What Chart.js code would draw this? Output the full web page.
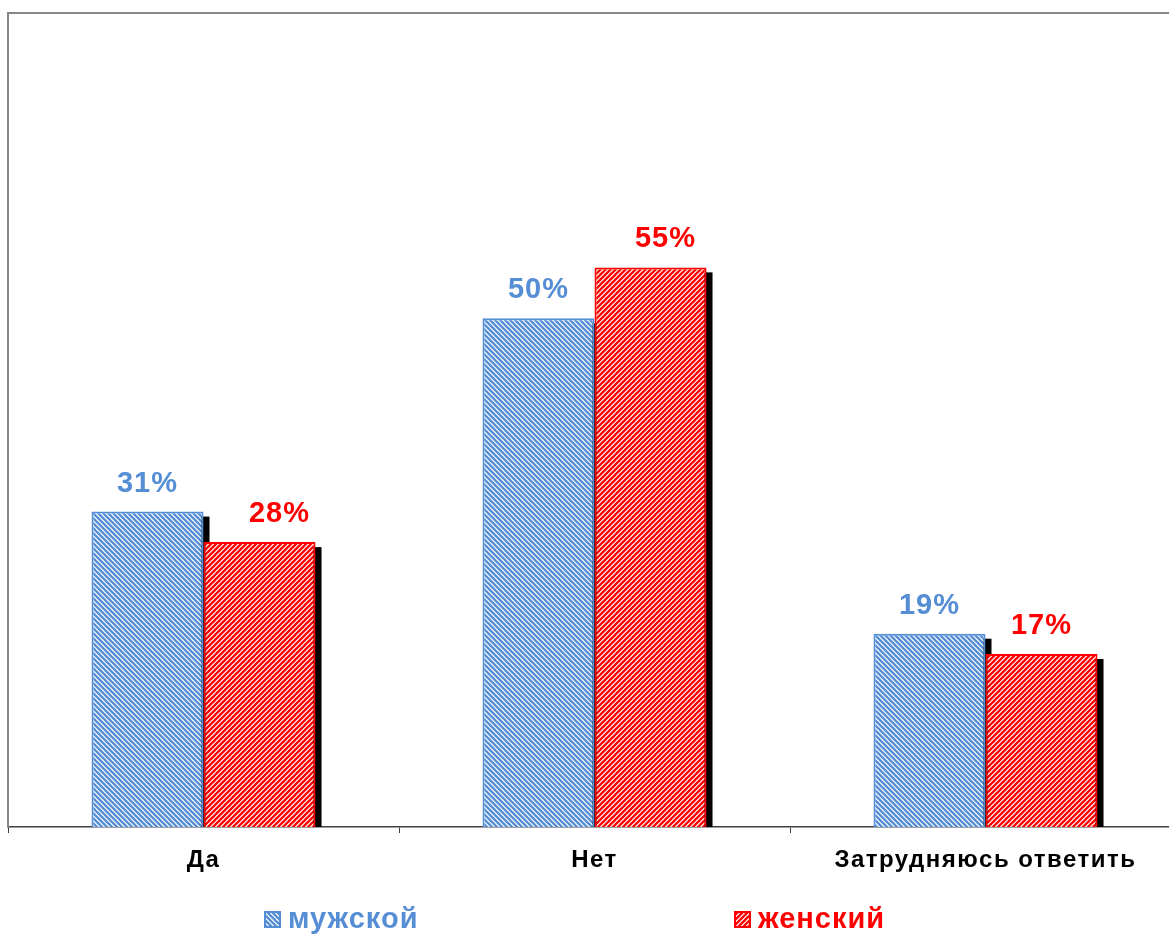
<!DOCTYPE html>
<html>
<head>
<meta charset="utf-8">
<script src="https://cdn.jsdelivr.net/npm/chart.js@4/dist/chart.umd.min.js"></script>
<style>
  html, body { margin: 0; padding: 0; background: #fff; overflow: hidden; }
  #wrap { width: 1169px; height: 935px; overflow: hidden; position: relative; }
  #lienzo { width: 1181px; height: 935px; position: relative; }
</style>
</head>
<body>
<div id="wrap"><div id="lienzo"><canvas id="grafico"></canvas></div></div>
<script>
// данные
const categorias = ['Да', 'Нет', 'Затрудняюсь ответить'];
const serieNombres = ['мужской', 'женский'];
const valoresMasculino = [31, 50, 19];
const valoresFemenino = [28, 55, 17];

const azul = '#558ED5';
const rojo = '#FF0000';
const fuente = '"Liberation Sans", Arial, sans-serif';

// patrón de rayas diagonales
function crearPatron(color, direccion) {
    const s = 5;
    const c = document.createElement('canvas');
    c.width = s; c.height = s;
    const g = c.getContext('2d');
    g.fillStyle = '#fff';
    g.fillRect(0, 0, s, s);
    g.strokeStyle = color;
    g.lineWidth = 2.3;
    g.beginPath();
    if (direccion === '/') {
        g.moveTo(-1, s + 1); g.lineTo(s + 1, -1);
        g.moveTo(-1, 1); g.lineTo(1, -1);
        g.moveTo(s - 1, s + 1); g.lineTo(s + 1, s - 1);
    } else {
        g.moveTo(-1, -1); g.lineTo(s + 1, s + 1);
        g.moveTo(s - 1, -1); g.lineTo(s + 1, 1);
        g.moveTo(-1, s - 1); g.lineTo(1, s + 1);
    }
    g.stroke();
    return g.createPattern(c, 'repeat');
}

const ctx = document.getElementById('grafico').getContext('2d');
const patronAzul = crearPatron(azul, '\\');
const patronRojo = crearPatron(rojo, '/');

// marco, sombras, etiquetas y leyenda
const decoraciones = {
    id: 'decoraciones',
    beforeDraw(chart) {
        // espaciado de letras para las etiquetas del eje x
        chart.ctx.letterSpacing = '1.5px';
    },
    beforeDatasetsDraw(chart) {
        const c = chart.ctx;
        const area = chart.chartArea;
        c.save();
        c.beginPath();
        c.rect(area.left, area.top, area.right - area.left, area.bottom - area.top);
        c.clip();
        c.fillStyle = '#000';
        chart.data.datasets.forEach((ds, i) => {
            chart.getDatasetMeta(i).data.forEach(bar => {
                const izq = bar.x - bar.width / 2;
                c.fillRect(izq + 6, bar.y + 5, bar.width, bar.base - bar.y);
            });
        });
        c.restore();
    },
    afterDatasetsDraw(chart, args, opts) {
        const c = chart.ctx;
        const area = chart.chartArea;
        c.save();
        // marco gris
        c.strokeStyle = '#878787';
        c.lineWidth = 2;
        c.beginPath();
        c.moveTo(area.left, area.bottom);
        c.lineTo(area.left, area.top);
        c.lineTo(chart.width, area.top);
        c.stroke();

        // etiquetas de valores
        c.letterSpacing = '1px';
        c.font = 'bold 29px ' + fuente;
        c.textAlign = 'center';
        c.textBaseline = 'alphabetic';
        chart.data.datasets.forEach((ds, i) => {
            chart.getDatasetMeta(i).data.forEach((bar, j) => {
                c.fillStyle = ds.labelColor;
                c.fillText(ds.data[j] + '%', bar.x + opts.desplazamientos[i][j], bar.y - 20);
            });
        });

        // leyenda
        const posX = [264, 734];
        const y = 928;
        c.textAlign = 'left';
        chart.data.datasets.forEach((ds, i) => {
            const x = posX[i];
            c.fillStyle = ds.backgroundColor;
            c.fillRect(x, y - 17, 17, 17);
            c.strokeStyle = ds.borderColor;
            c.lineWidth = 2;
            c.strokeRect(x + 1, y - 16, 15, 15);
            c.fillStyle = ds.labelColor;
            c.fillText(ds.label, x + 24, y);
        });
        c.restore();
    }
};

new Chart(ctx, {
    type: 'bar',
    data: {
        labels: categorias,
        datasets: [{
            label: serieNombres[0],
            data: valoresMasculino,
            backgroundColor: patronAzul,
            borderColor: azul,
            borderWidth: 2,
            labelColor: azul
        }, {
            label: serieNombres[1],
            data: valoresFemenino,
            backgroundColor: patronRojo,
            borderColor: rojo,
            borderWidth: 2,
            labelColor: rojo
        }]
    },
    options: {
        responsive: true,
        maintainAspectRatio: false,
        animation: false,
        layout: { padding: { left: 8, top: 13, right: 0, bottom: 58 } },
        datasets: { bar: { categoryPercentage: 0.573, barPercentage: 1.0 } },
        plugins: {
            legend: { display: false },
            tooltip: { enabled: false },
            decoraciones: { desplazamientos: [[0, 0, 0], [20, 15, 0]] }
        },
        scales: {
            x: {
                offset: true,
                border: { color: '#404040', width: 1.5 },
                grid: { drawOnChartArea: false, tickLength: 6, color: '#404040', offset: true },
                ticks: {
                    color: '#000',
                    padding: 13,
                    maxRotation: 0,
                    font: { family: fuente, size: 24, weight: 'bold' }
                },
                afterFit(scale) { scale.height = 50; }
            },
            y: {
                display: false,
                min: 0,
                max: 80
            }
        }
    },
    plugins: [decoraciones]
});
</script>
</body>
</html>
